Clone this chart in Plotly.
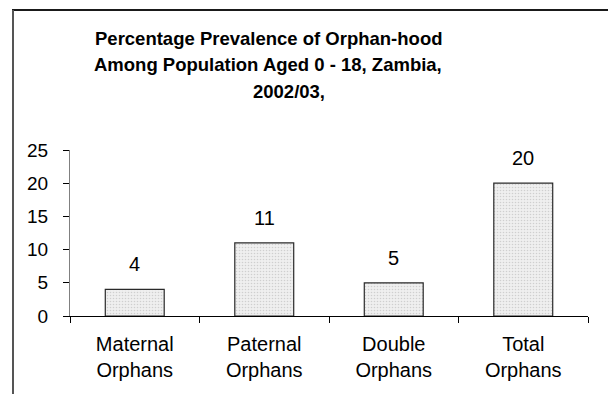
import plotly.graph_objects as go

# Orphan-hood prevalence, Zambia 2002/03
categories = ["Maternal<br>Orphans", "Paternal<br>Orphans", "Double<br>Orphans", "Total<br>Orphans"]
values = [4, 11, 5, 20]
y_ticks = [0, 5, 10, 15, 20, 25]
title_lines = [
    "Percentage Prevalence of Orphan-hood",
    "Among Population Aged 0 - 18, Zambia,",
    "2002/03,",
]

W, H = 608, 394
L, R, T, B = 70, 20, 150, 78
FONT = "Liberation Sans, Arial, sans-serif"


def px_x(p):
    return (p - L) / (W - L - R)


def px_y(p):
    return (H - B - p) / (H - T - B)


fig = go.Figure(
    go.Bar(
        x=categories,
        y=values,
        width=0.455,
        marker=dict(
            color="#e6e6e6",
            line=dict(color="#2a2a2a", width=1.2),
            pattern=dict(shape=".", fgcolor="#b0b0b0", bgcolor="#efefef", size=3, solidity=0.22),
        ),
        showlegend=False,
        hoverinfo="skip",
    )
)

# value labels above each bar
for c, v in zip(categories, values):
    fig.add_annotation(
        x=c, y=v, text=str(v), showarrow=False, yanchor="bottom", yshift=12,
        font=dict(family=FONT, size=20, color="#000"),
    )

# title, one annotation per line
title_pos = [(268, 38), (268, 64), (289, 91)]
for line, (cx, cy) in zip(title_lines, title_pos):
    fig.add_annotation(
        x=px_x(cx), y=px_y(cy), xref="paper", yref="paper", text=f"<b>{line}</b>",
        showarrow=False, xanchor="center", yanchor="middle",
        font=dict(family=FONT, size=18.5, color="#000"),
    )

# chart frame (top and left edges visible)
fig.add_shape(type="line", xref="paper", yref="paper",
              x0=px_x(12), x1=px_x(700), y0=px_y(10), y1=px_y(10),
              line=dict(color="#1a1a1a", width=2))
fig.add_shape(type="line", xref="paper", yref="paper",
              x0=px_x(13), x1=px_x(13), y0=px_y(10), y1=px_y(500),
              line=dict(color="#555555", width=2))

fig.update_layout(
    width=W, height=H,
    margin=dict(l=L, r=R, t=T, b=B),
    paper_bgcolor="white", plot_bgcolor="white",
    font=dict(family=FONT, size=20, color="#000"),
    bargap=0.545,
)
fig.update_xaxes(
    showline=True, linecolor="#000", linewidth=1,
    ticks="outside", ticklen=6, tickcolor="#000", tickson="boundaries",
    showgrid=False, ticklabelstandoff=10,
    tickfont=dict(family=FONT, size=20, color="#000"),
)
fig.update_yaxes(
    range=[0, 25], tickvals=y_ticks, showline=True, linecolor="#808080", linewidth=1,
    ticks="outside", ticklen=6, tickcolor="#000", showgrid=False, zeroline=False,
    ticklabelstandoff=11,
    tickfont=dict(family=FONT, size=19, color="#000"),
)

fig.write_html("out.html")
